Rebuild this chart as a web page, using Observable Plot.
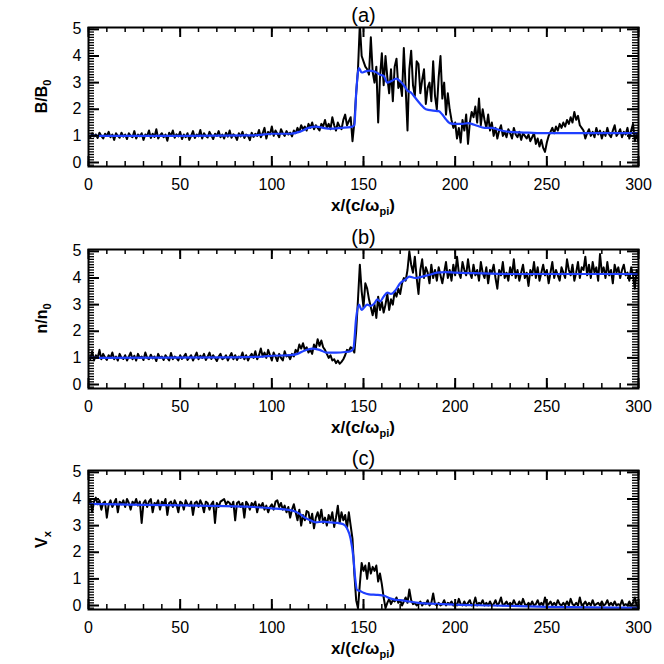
<!DOCTYPE html>
<html><head><meta charset="utf-8">
<script src="https://cdn.jsdelivr.net/npm/d3@7"></script>
<script src="https://cdn.jsdelivr.net/npm/@observablehq/plot@0.6"></script>
<style>body{margin:0;background:#fff}#chart svg{display:block}</style></head><body><div id="chart"></div>
<script>
const sampleX=d3.range(0,301);
const titles=["(a)","(b)","(c)"];
const yLabelMain=["B/B","n/n","V"];
const yLabelSub=["0","0","x"];
const xLabelMain="x/(c/ω",xLabelSub="pi";
const xMajor=[0,50,100,150,200,250,300];
const xMinor=d3.range(0,301,10);
const yMajor=[0,1,2,3,4,5];
const yMinor=d3.range(-1,51).map(i=>i/10);
const blackA=[1.02,.95,1.1,.98,1.05,.92,1.12,1,.9,1.08,1,1.15,.95,1.05,.85,1.1,1,.93,1.12,.97,
1.05,.88,1.1,1,.95,1.18,.9,1.05,.98,1.1,.85,1.05,1,1.2,.92,1.08,.96,1.25,.9,1.02,
1.1,.95,1.05,.82,1.12,1,1.2,.93,1.06,.98,1.15,.88,1.05,.95,1.1,.85,1,1.18,.92,1.05,
.98,1.22,.9,1.1,1,.94,1.15,1.02,.88,1.08,1,1.18,.95,1.05,.9,1.12,.97,1.2,.93,1.06,
1,.85,1.1,.98,1.15,.92,1.05,1,.84,1.12,.96,1.08,1,1.22,.95,1.1,1.3,.9,1.15,1.05,
1.35,1,1.2,1.08,.95,1.25,1.1,1,1.18,1.05,1.12,.98,1.2,1.1,1.3,1.15,1.4,1.25,1.35,1.2,
1.45,1.3,1.5,1.25,1.4,1.3,1.2,1.45,1.35,1.6,1.3,1.45,1.25,1.7,1.4,1.2,1.5,1.35,1.25,1.6,
1.8,1.4,1.55,1.7,.8,1.5,2.6,3.5,5.2,4,3.8,3.6,3.5,3.3,4.7,3.4,3,3.6,1.5,3.2,
4.1,2.9,4,3.2,2.6,3.5,2.3,3.6,3.9,2.8,3,2.5,4.3,2.8,1.2,3.5,4.2,2.9,2.5,3.8,
3.7,2.6,3.1,3.5,2.2,2.8,3,2.3,3.8,2.5,2,3.2,4,2.4,3,1.8,2.6,2,1.6,1.3,
1.5,.9,1.3,.75,1.6,1.2,1.8,.7,1.5,1.9,1.7,2.1,1.5,2.4,1.4,2,1.6,1.3,1.8,1.2,
1.5,1,1.3,.9,1.2,1.4,1,1.15,.95,1.25,1.1,.9,1.3,1.05,.95,1.15,.85,1.1,1,.9,
1.05,.8,.95,1.1,.7,.9,.6,.85,.55,.4,.75,1,1.15,1.3,1.1,1.35,1.2,1.45,1.3,1.5,
1.35,1.6,1.45,1.7,1.5,1.9,1.6,1.75,1.4,1.3,1.2,.9,1.1,1.25,1,1.15,.95,1.3,1.05,1.2,
.9,1.15,1,1.3,1.05,.95,1.2,1.4,1,1.1,1.25,.95,1.15,1.05,1.3,.9,1.2,1.45,.8,1.1,.75];
const blackB=[1.05,.95,1.25,.9,1.1,1,1.3,.95,1.15,1.02,.92,1.1,1,1.2,.95,1.05,.9,1.15,1,.96,
1.1,.9,1.05,1.2,.95,1.08,.9,1.15,1,1.05,.92,1.2,1,.95,1.12,.98,1.05,.88,1.15,1,
1.05,.92,1.1,1,.9,1.18,.95,1.05,1,.9,1.1,.96,1.05,1.15,.92,1.02,1.1,.9,1.05,1.2,
.95,1.08,1,1.15,.92,1.05,1.2,.96,1.1,1,.88,1.05,1.15,.95,1,1.1,.9,1.05,1.18,.95,
1.1,.92,1.05,1,1.2,.95,1.1,.9,1.05,1.15,1,1.25,.95,1.1,1.35,1.05,1.2,1,1.3,1.1,
.9,1.2,1.05,.88,1.15,1,.9,1.25,1.05,1.1,.95,1.15,1.05,1.3,1.2,1.5,1.35,1.55,1.3,1.4,
1.2,1.3,1.15,1.5,1.35,1.7,1.45,1.65,1.4,1.3,1.15,1,1.1,.9,.95,.8,.9,.78,.85,.95,
1.1,1.3,1.25,1.4,1.35,1.2,2,3.2,4.5,3.5,2.9,3.8,3.6,3.2,2.9,2.6,3,2.5,3.3,2.8,
3.1,2.7,3,3.4,2.8,3.2,3,3.5,3.3,3.6,3.4,3.8,4,3.9,4.3,5,4.5,4.2,4.8,4,
3.4,4.3,4.7,4,4.4,4.2,3.8,4.5,4,4.3,3.9,4.4,4.1,3.8,4.2,4.6,4,4.3,3.9,4.5,
4.1,4.8,4.2,4,4.6,4.3,4.1,4.7,4.2,4,4.5,4.1,4.3,3.9,4.6,4.2,4,4.4,3.8,4.3,
4.2,4.5,4,3.6,4.3,4.1,4.6,4,4.2,3.9,4.4,4.1,4.7,4,4.3,3.9,4.2,4.5,4,4.2,
3.7,4.3,4.1,4.6,4,4.4,3.9,4.2,4.5,4.1,4.3,3.8,4.2,4.6,4,4.3,4.1,3.9,4.4,4.2,
4,4.7,4.3,4.1,4.5,3.9,4.2,4.6,4,4.4,4.3,4.8,4.1,4.5,4,4.6,4.2,4.4,3.9,4.9,
4.2,4.4,4,4.6,4.1,4.3,3.8,4.5,4.2,4.4,4,4.3,4.5,4.1,4.2,3.9,4.4,4.1,3.6,4.3,4.2];
const blackC=[3.85,4,3.5,3.9,4.05,3.8,3.95,3.6,3.85,3.9,3.3,3.8,3.95,3.7,3.85,4,3.5,3.9,3.8,3.95,
3.7,4,3.85,3.6,3.9,3.8,4,3.75,3.9,3.1,3.85,3.95,3.7,3.9,4,3.5,3.85,3.8,3.95,3.6,
3.9,3.8,4,3.4,3.85,3.9,3.7,3.95,3.8,3.5,3.9,3.85,3.6,3.95,3.8,3.75,3.9,3.4,3.85,3.9,
3.7,3.95,3.8,3.5,3.9,3.85,3.6,3.8,3.9,3.1,3.85,3.7,3.9,3.95,4,3.8,3.9,3.85,3.7,3.9,
3.2,3.85,3.9,3.7,3.85,3.3,3.9,3.8,3.6,3.85,3.75,3.9,3.5,3.8,3.7,3.85,3.6,3.75,3.5,3.7,
3.8,3.6,3.9,3.95,3.7,3.85,3.6,3.75,3.5,3.7,3.3,3.6,3.8,3.5,3.2,3.6,3,3.4,3.2,3.55,
3.5,3.1,3.45,2.9,3.3,3.5,3.2,3.6,3.1,3.3,3,3.4,3.2,3.5,2.95,3.3,3.75,3.1,3.5,3.2,
3.4,2.9,3.5,3,2.5,1.2,.2,-.1,.8,1.6,1.3,1.5,1,1.6,1.2,1.45,1.3,1.5,.9,1.2,
.8,.3,-.1,.1,.25,.05,.2,.15,.3,.1,.2,0,.15,.3,.1,.6,.2,.05,.1,0,
.05,.15,0,.1,.05,.2,0,.1,.45,.05,0,.1,0,.05,.2,0,.1,.05,.15,0,
.1,0,.25,.05,0,.15,0,.1,.2,0,.05,.3,0,.1,.05,.2,0,.1,0,.15,
0,.05,.2,0,.1,.3,0,.05,.15,0,.1,0,.2,.05,0,.15,0,.25,.05,0,
.1,0,.15,0,.05,.2,0,.1,0,.3,0,.05,.15,0,.1,0,.2,.05,0,.1,
0,.15,0,.25,.05,0,.1,0,.3,0,.05,.15,0,.1,0,.2,0,.05,.1,0,
.15,0,.05,.2,0,.1,0,.15,0,.05,0,.2,0,.05,0,.15,0,.1,.3,0,-.05];
const blueAx=[0,40,90,100,110,115,120,124,128,132,138,143,145,146,147.5,149,151,153,156,159,161,163,165,168,170,172,174,176,178,181,184,188,191,193,195,197,200,204,207,209,212,216,220,224,230,240,250,300];
const blueAy=[1,1,1.02,1.08,1.08,1.15,1.3,1.35,1.3,1.27,1.3,1.33,1.4,2.6,3.55,3.38,3.42,3.45,3.42,3.3,3.25,3,3.05,3.15,3.05,2.9,2.7,2.62,2.45,2.2,2,1.95,1.93,1.8,1.62,1.48,1.45,1.45,1.48,1.45,1.38,1.3,1.3,1.22,1.15,1.12,1.1,1.1];
const blueBx=[0,80,95,100,110,114,118,122,126,130,135,140,143,144.5,146,147.5,149,150.5,152,154,156,157.5,159,161,163,165,167,170,173,175,178,182,186,190,195,200,210,230,300];
const blueBy=[1,1.02,1.05,1.08,1.1,1.15,1.28,1.35,1.3,1.2,1.2,1.22,1.25,1.35,2.5,3,2.8,2.9,3,2.95,3.05,3.2,3.12,3.3,3.45,3.4,3.5,3.8,3.95,4.05,4,4.05,4.12,4.2,4.22,4.2,4.18,4.15,4.15];
const blueCx=[0,30,60,90,100,108,112,115,118,121,124,128,132,136,139,141,143,144.5,145.5,146.5,148,150,153,157,160,162,164,167,170,175,180,190,200,220,250,300];
const blueCy=[3.82,3.78,3.75,3.7,3.65,3.6,3.55,3.45,3.3,3.2,3.12,3.15,3.12,3.1,3.05,2.9,2.5,1.8,1,.58,.55,.48,.42,.4,.38,.35,.28,.22,.2,.15,.1,.06,.03,0,-.05,-.08];
const blacks=[blackA,blackB,blackC],bluesX=[blueAx,blueBx,blueCx],bluesY=[blueAy,blueBy,blueCy];
const W=664,ML=88,MR=26,FH=139,FW=W-ML-MR,heights=[222,222,220],tops=[27,27,26];
const FONT="'Liberation Sans',Arial,sans-serif";
const tx=(v,len,bottom,sw)=>Plot.ruleX(v,{x:d=>d,stroke:"#000",strokeWidth:sw,...(bottom?{insetTop:FH-len}:{insetBottom:FH-len})});
const ty=(v,len,left,sw)=>Plot.ruleY(v,{y:d=>d,stroke:"#000",strokeWidth:sw,...(left?{insetRight:FW-len}:{insetLeft:FW-len})});
const root=document.getElementById("chart");
for(let k=0;k<3;k++){
 const H=heights[k],MT=tops[k],MB=H-MT-FH;
 const svg=Plot.plot({width:W,height:H,marginLeft:ML,marginRight:MR,marginTop:MT,marginBottom:MB,
  style:{fontFamily:FONT,fontSize:"16px",color:"#000",background:"#fff"},
  x:{domain:[0,300],axis:null},y:{domain:[-0.15,5.07],axis:null},
  marks:[
   Plot.line(blacks[k].map((v,i)=>({x:sampleX[i],y:v})),{x:"x",y:"y",stroke:"#000",strokeWidth:2,clip:true}),
   Plot.line(bluesX[k].map((x,i)=>({x,y:bluesY[k][i]})),{x:"x",y:"y",stroke:"#1f3fff",strokeWidth:2.2,clip:true,curve:"monotone-x"}),
   tx(xMinor,5,true,1.5),tx(xMinor,5,false,1.5),tx(xMajor,10,true,2),tx(xMajor,10,false,2),
   ty(yMinor,6,true,1.3),ty(yMinor,6,false,1.3),ty(yMajor,11,true,2),ty(yMajor,11,false,2),
   Plot.axisX(xMajor,{anchor:"bottom",tickSize:0,tickPadding:12,label:null}),
   Plot.axisY(yMajor,{anchor:"left",tickSize:0,tickPadding:7,label:null}),
   Plot.frame({strokeWidth:2}),
   Plot.text([titles[k]],{frameAnchor:"top",dy:-6,lineAnchor:"bottom",fontSize:20,text:d=>d})
  ]});
 const s=d3.select(svg);
 const xt=s.append("text").attr("x",ML+FW/2).attr("y",MT+FH+45).attr("text-anchor","middle")
  .attr("font-size",17).attr("font-weight","bold").attr("font-family",FONT).attr("fill","#000");
 xt.append("tspan").text(xLabelMain);
 xt.append("tspan").attr("font-size",11).attr("dy",4).text(xLabelSub);
 xt.append("tspan").attr("dy",-4).text(")");
 const yt=s.append("text").attr("transform",`translate(47,${MT+FH/2}) rotate(-90)`).attr("text-anchor","middle")
  .attr("font-size",16).attr("font-weight","bold").attr("font-family",FONT).attr("fill","#000");
 yt.append("tspan").text(yLabelMain[k]);
 yt.append("tspan").attr("font-size",11).attr("dy",4).text(yLabelSub[k]);
 root.appendChild(svg);
}
</script></body></html>
